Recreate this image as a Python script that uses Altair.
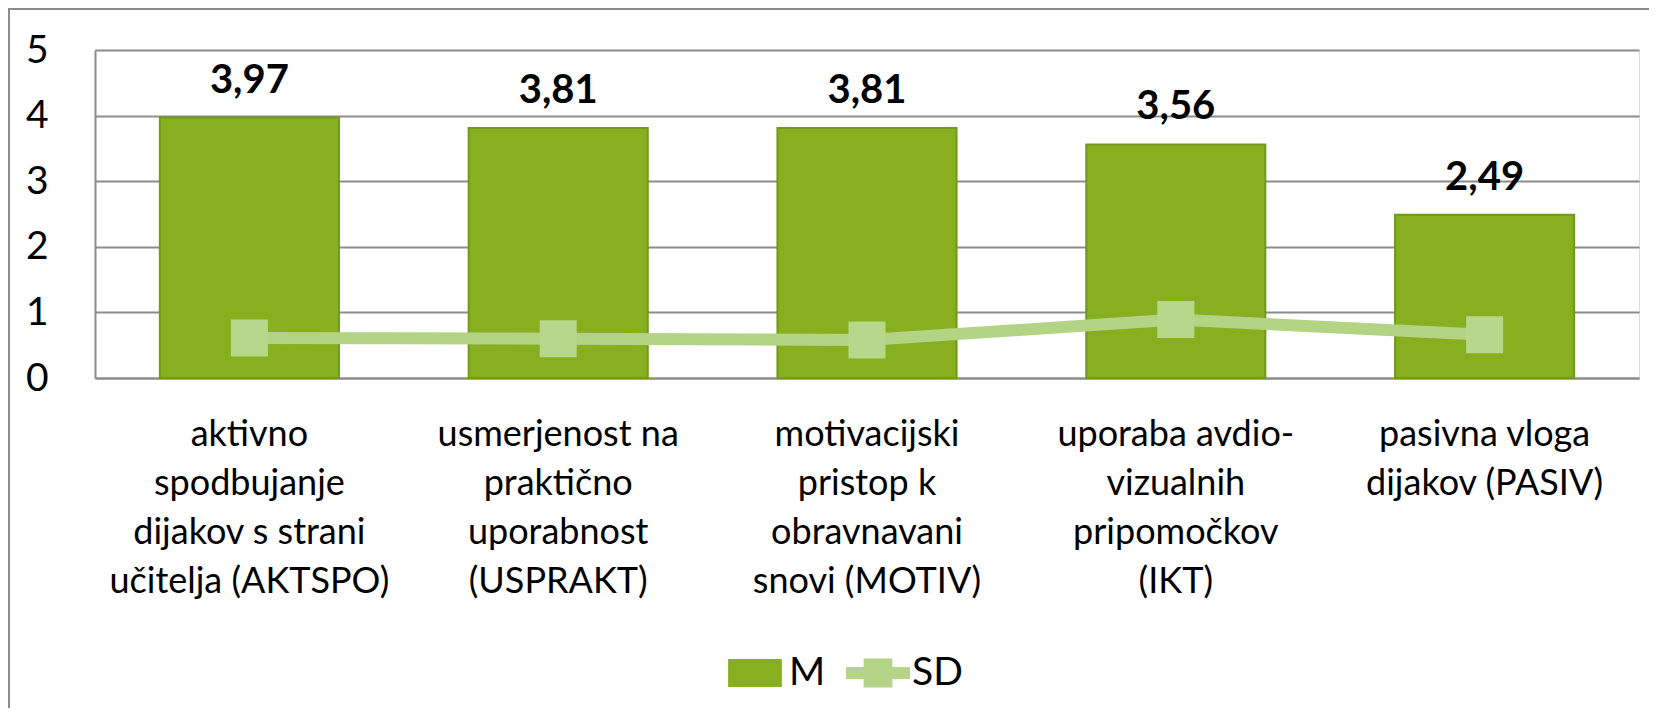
import altair as alt
import pandas as pd

categories = [
    "aktivno|spodbujanje|dijakov s strani|učitelja (AKTSPO)",
    "usmerjenost na|praktično|uporabnost|(USPRAKT)",
    "motivacijski|pristop k|obravnavani|snovi (MOTIV)",
    "uporaba avdio-|vizualnih|pripomočkov|(IKT)",
    "pasivna vloga|dijakov (PASIV)",
]
m_values = [3.97, 3.81, 3.81, 3.56, 2.49]
sd_values = [0.61, 0.60, 0.58, 0.89, 0.66]
y_ticks = [0, 1, 2, 3, 4, 5]
legend_labels = ["M", "SD"]

W, H = 1544, 328
FONT = "Lato"
GRID = "#8c8c8c"
BAR = "#87AF1F"
BAR_EDGE = "#71991A"
SD_LINE = "#B3D385"
SD_MARK = "#B8D78A"

df = pd.DataFrame({"cat": categories, "M": m_values, "SD": sd_values})
leg = pd.DataFrame({"series": legend_labels})

x = alt.X(
    "cat:N", sort=categories,
    scale=alt.Scale(paddingInner=0.42, paddingOuter=0.21),
    axis=alt.Axis(title=None, labelAngle=0, labelExpr="split(datum.label, '|')",
                  labelFont=FONT, labelFontSize=36, labelLineHeight=49,
                  labelColor="black", labelPadding=39, ticks=False,
                  domainColor=GRID, domainWidth=2, labelLimit=0,
                  labelBaseline="top"),
)
y = alt.Y(
    "M:Q", scale=alt.Scale(domain=[0, 5]),
    axis=alt.Axis(values=y_ticks, format="d", title=None, ticks=False, labelPadding=47,
                  labelFontSize=39, labelFont=FONT, labelColor="black",
                  gridColor=GRID, gridWidth=2, domainColor=GRID, domainWidth=2),
)

base = alt.Chart(df)
bars = base.mark_bar(color=BAR, stroke=BAR_EDGE, strokeWidth=2).encode(x=x, y=y)
labels = base.transform_calculate(
    lab="replace(format(datum.M, '.2f'), '.', ',')"
).mark_text(font=FONT, fontSize=40, fontWeight="bold", baseline="alphabetic",
            dy=-25, color="black").encode(x=x, y=y, text="lab:N")
sd_line = base.mark_line(color=SD_LINE, strokeWidth=12).encode(x=x, y=alt.Y("SD:Q"))
sd_pts = base.mark_point(shape="square", size=1369, filled=True, color=SD_MARK,
                         opacity=1).encode(x=x, y=alt.Y("SD:Q"))

path_m = "M-0.84,-0.44H0.84V0.44H-0.84Z"
path_sd = ("M-1,-0.19H-0.45V-0.45H0.45V-0.19H1V0.19H0.45V0.45H-0.45V0.19H-1Z")

legend = alt.Legend(orient="none", legendX=628, legendY=591, direction="horizontal",
                    title=None, labelFont=FONT, labelFontSize=39, labelColor="black",
                    symbolSize=4096, symbolStrokeWidth=0, symbolOpacity=1,
                    columnPadding=20, labelOffset=2, padding=0)
legend_layer = alt.Chart(leg).mark_point(filled=True, opacity=0).encode(
    x=alt.value(0), y=alt.value(0),
    color=alt.Color("series:N", scale=alt.Scale(domain=legend_labels,
                                                range=[BAR, "#B5D488"]), legend=legend),
    shape=alt.Shape("series:N", scale=alt.Scale(domain=legend_labels,
                                                range=[path_m, path_sd]), legend=legend),
)

border = alt.Chart(pd.DataFrame({"a": [0]})).mark_rect(
    filled=False, stroke=GRID, strokeWidth=2
).encode(x=alt.value(-86), x2=alt.value(W + 60), y=alt.value(-41), y2=alt.value(H + 420))

chart = alt.layer(border, bars, sd_line, sd_pts, labels, legend_layer).properties(
    width=W, height=H,
    autosize=alt.AutoSizeParams(type="none"),
    padding={"left": 87, "top": 42, "right": 10, "bottom": 330},
).configure_view(fill="#EEF3E8", stroke=None).configure(background="white")

chart.save("out.html", embed_options={"renderer": "svg", "actions": False})
